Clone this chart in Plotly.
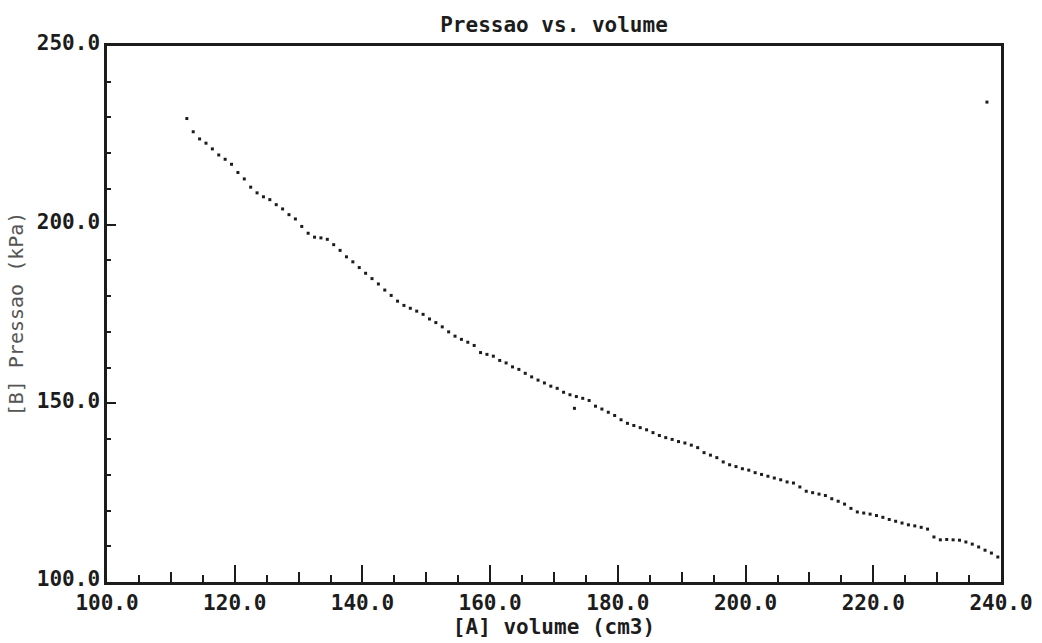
import plotly.graph_objects as go

# Volume (cm3) and pressure (kPa)
volume = [112.5, 113.5, 114.5, 115.5, 116.5, 117.5, 118.5, 119.5, 120.5, 121.5,
          122.5, 123.5, 124.5, 125.5, 126.5, 127.5, 128.5, 129.5, 130.5, 131.5,
          132.5, 133.5, 134.5, 135.5, 136.5, 137.5, 138.5, 139.5, 140.5, 141.5,
          142.5, 143.5, 144.5, 145.5, 146.5, 147.5, 148.5, 149.5, 150.5, 151.5,
          152.5, 153.5, 154.5, 155.5, 156.5, 157.5, 158.5, 159.5, 160.5, 161.5,
          162.5, 163.5, 164.5, 165.5, 166.5, 167.5, 168.5, 169.5, 170.5, 171.5,
          172.5, 173.5, 174.5, 175.5, 176.5, 177.5, 178.5, 179.5, 180.5, 181.5,
          182.5, 183.5, 184.5, 185.5, 186.5, 187.5, 188.5, 189.5, 190.5, 191.5,
          192.5, 193.5, 194.5, 195.5, 196.5, 197.5, 198.5, 199.5, 200.5, 201.5,
          202.5, 203.5, 204.5, 205.5, 206.5, 207.5, 208.5, 209.5, 210.5, 211.5,
          212.5, 213.5, 214.5, 215.5, 216.5, 217.5, 218.5, 219.5, 220.5, 221.5,
          222.5, 223.5, 224.5, 225.5, 226.5, 227.5, 228.5, 229.5, 230.5, 231.5,
          232.5, 233.5, 234.5, 235.5, 236.5, 237.5, 238.5, 239.5]
pressure = [229.7, 226.0, 224.0, 222.8, 221.2, 219.5, 218.3, 216.9, 214.6, 212.8,
            210.5, 208.9, 207.8, 207.0, 205.6, 204.4, 202.8, 201.6, 199.5, 197.6,
            196.5, 196.3, 195.9, 194.4, 192.8, 191.0, 189.6, 188.0, 186.4, 184.9,
            183.4, 181.7, 180.2, 178.6, 177.4, 176.6, 175.8, 174.9, 173.6, 172.6,
            171.4, 170.0, 168.8, 167.9, 167.1, 166.2, 164.2, 163.7, 163.2, 162.0,
            161.3, 160.2, 159.5, 158.4, 157.4, 156.5, 155.7, 154.8, 154.2, 153.1,
            152.4, 151.9, 151.4, 150.8, 149.2, 148.4, 147.5, 146.6, 145.4, 144.4,
            143.8, 143.2, 142.6, 141.8, 141.0, 140.4, 139.9, 139.3, 138.9, 138.3,
            137.6, 136.2, 135.5, 134.8, 133.6, 132.8, 132.3, 131.7, 131.3, 130.6,
            130.1, 129.6, 129.1, 128.6, 128.0, 127.7, 126.6, 125.4, 125.0, 124.6,
            124.2, 123.3, 122.6, 121.8, 120.6, 119.6, 119.3, 119.0, 118.6, 118.1,
            117.5, 117.0, 116.5, 116.0, 115.7, 115.3, 114.8, 112.6, 111.8, 111.9,
            111.8, 111.7, 111.2, 110.6, 109.8, 108.9, 108.1, 107.0]

# isolated stray dots on the printout
stray_volume = [237.8, 173.2]
stray_pressure = [234.3, 148.6]

title_text = "Pressao vs. volume"
x_title = "[A] volume (cm3)"
y_title = "[B] Pressao (kPa)"

FONT = "DejaVu Sans Mono"
INK = "#1c1c1c"

fig = go.Figure()
fig.add_trace(go.Scatter(x=volume, y=pressure, mode="markers",
                         marker=dict(symbol="square", size=3, color=INK),
                         showlegend=False, hoverinfo="x+y"))
fig.add_trace(go.Scatter(x=stray_volume, y=stray_pressure, mode="markers",
                         marker=dict(symbol="square", size=3, color=INK),
                         showlegend=False, hoverinfo="x+y"))
# overlay axis only used for the intermediate (every 10) x ticks
fig.add_trace(go.Scatter(x=[100, 240], y=[100, 100], mode="markers",
                         marker=dict(size=0.1, opacity=0), xaxis="x2",
                         showlegend=False, hoverinfo="skip"))

fig.update_layout(
    width=1042, height=643,
    margin=dict(l=107, r=41, t=46, b=61, autoexpand=False),
    paper_bgcolor="white", plot_bgcolor="white",
    font=dict(family=FONT, color=INK, size=21),
    title=dict(text=title_text, x=0.5, xref="paper", xanchor="center",
               y=1 - 25 / 643, yref="container", yanchor="middle",
               font=dict(family=FONT, size=21, color=INK, weight="bold")),
    xaxis=dict(range=[100, 240], dtick=20, tick0=100, tickformat=".1f",
               ticks="inside", ticklen=17, tickwidth=2, tickcolor=INK,
               showline=True, linewidth=2.5, linecolor=INK, mirror=True,
               showgrid=False, zeroline=False, automargin=False,
               minor=dict(dtick=5, tick0=100, ticks="inside", ticklen=7,
                          tickwidth=1.5, tickcolor=INK, showgrid=False),
               tickfont=dict(family=FONT, size=21, color=INK, weight="bold"),
               title=dict(text=x_title, standoff=4,
                          font=dict(family=FONT, size=21, color=INK, weight="bold"))),
    xaxis2=dict(range=[100, 240], dtick=10, tick0=100, overlaying="x",
                side="bottom", anchor="y",
                ticks="inside", ticklen=10, tickwidth=1.5, tickcolor=INK,
                showticklabels=False, showgrid=False, zeroline=False,
                showline=False),
    yaxis=dict(range=[100, 250], dtick=50, tick0=100, tickformat=".1f",
               ticks="inside", ticklen=9, tickwidth=2, tickcolor=INK,
               showline=True, linewidth=2.5, linecolor=INK, mirror=True,
               showgrid=False, zeroline=False, ticklabelshift=-3,
               automargin=False,
               minor=dict(dtick=10, tick0=100, ticks="inside", ticklen=4,
                          tickwidth=1.5, tickcolor=INK, showgrid=False),
               tickfont=dict(family=FONT, size=21, color=INK, weight="bold"),
               title=dict(text=y_title, standoff=8,
                          font=dict(family=FONT, size=20, color="#555555"))),
)

fig.write_html("out.html", config={"displayModeBar": False},
               post_script="document.body.style.margin='0';document.body.style.padding='0';")
